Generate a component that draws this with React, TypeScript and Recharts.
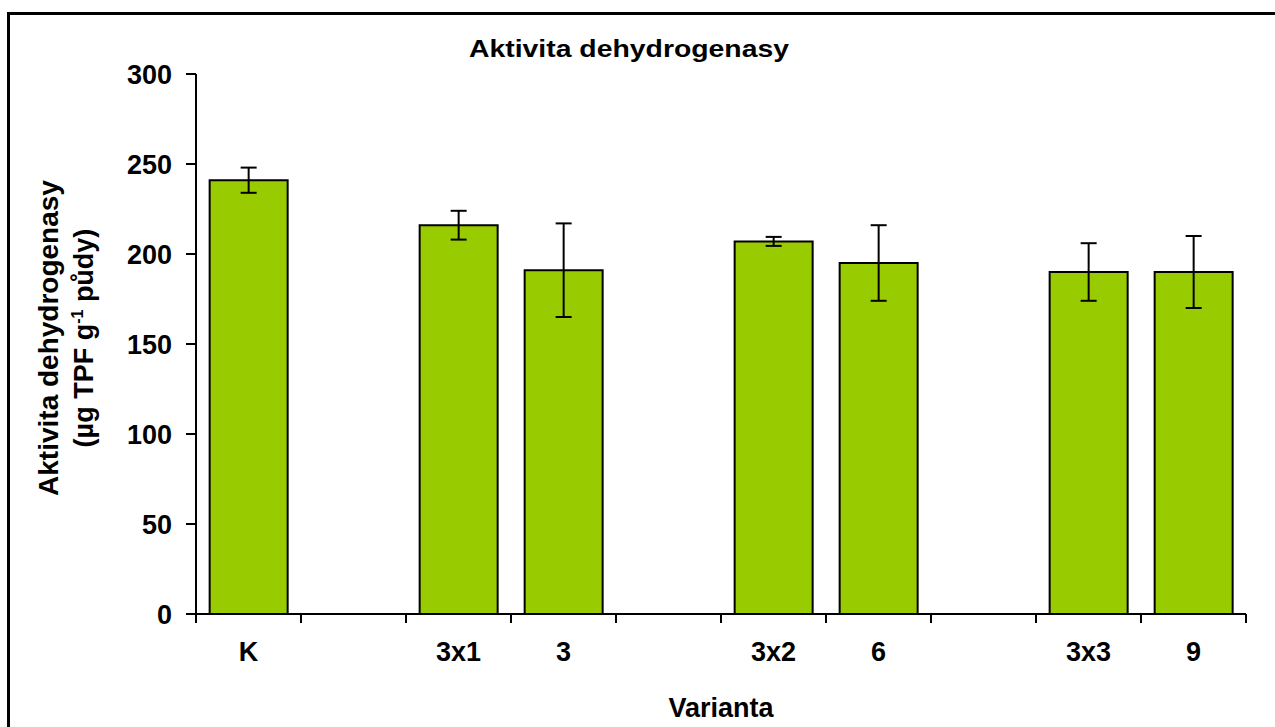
import { BarChart, Bar, XAxis, YAxis, ErrorBar } from "recharts";

// empty slots are the gaps between the groups
const categories = ["K", "", "3x1", "3", "", "3x2", "6", "", "3x3", "9"];
const means = [241, null, 216, 191, null, 207, 195, null, 190, 190];
const errors = [7, null, 8, 26, null, 2.5, 21, null, 16, 20];
const yTicks = [0, 50, 100, 150, 200, 250, 300];

const FONT = "'Liberation Sans', Arial, sans-serif";
const TICK_LEN = 9;

const data = categories.map((name, i) => ({
  slot: i,
  name,
  mean: means[i],
  err: errors[i],
}));

const XTick = (props: any) => {
  const { x, y, payload, index, visibleTicksCount, width } = props;
  const half = payload?.offset ?? width / visibleTicksCount / 2;
  const axisY = y - TICK_LEN;
  const isLast = index === visibleTicksCount - 1;
  return (
    <g>
      <line x1={x - half} x2={x - half} y1={axisY} y2={axisY + TICK_LEN} stroke="#000" strokeWidth={2} />
      {isLast && (
        <line x1={x + half} x2={x + half} y1={axisY} y2={axisY + TICK_LEN} stroke="#000" strokeWidth={2} />
      )}
      <text x={x} y={axisY + 47} textAnchor="middle" fontSize={27} fontWeight="bold" fontFamily={FONT} fill="#000">
        {categories[index]}
      </text>
    </g>
  );
};

const App = () => {
  return (
    <div
      style={{
        position: "fixed",
        left: 0,
        top: 0,
        width: 1275,
        height: 727,
        overflow: "hidden",
        background: "#fff",
      }}
    >
      <div
        style={{
          position: "absolute",
          left: 7,
          top: 12,
          width: 1400,
          height: 900,
          borderTop: "3px solid #000",
          borderLeft: "3px solid #000",
        }}
      />
      <svg width={1275} height={727} style={{ position: "absolute", left: 0, top: 0 }}>
        <text
          x={629}
          y={57}
          textAnchor="middle"
          fontSize={24}
          fontWeight="bold"
          fontFamily={FONT}
          textLength={320}
          lengthAdjust="spacingAndGlyphs"
        >
          Aktivita dehydrogenasy
        </text>
        <text
          transform="translate(58, 338) rotate(-90)"
          textAnchor="middle"
          fontSize={28}
          fontWeight="bold"
          fontFamily={FONT}
        >
          Aktivita dehydrogenasy
        </text>
        <text
          transform="translate(93, 338) rotate(-90)"
          textAnchor="middle"
          fontSize={27}
          fontWeight="bold"
          fontFamily={FONT}
        >
          (µg TPF g
          <tspan fontSize={16} dy={-10}>-1</tspan>
          <tspan dy={10}> půdy)</tspan>
        </text>
      </svg>
      <div style={{ position: "absolute", left: 0, top: 0 }}>
        <BarChart
          width={1275}
          height={727}
          data={data}
          margin={{ top: 74, right: 29, bottom: 0, left: 0 }}
          barCategoryGap="13%"
        >
          <XAxis
            dataKey="slot"
            type="category"
            interval={0}
            height={113}
            axisLine={{ stroke: "#000", strokeWidth: 2 }}
            tickLine={false}
            tickSize={TICK_LEN}
            tickMargin={0}
            tick={<XTick />}
            label={{
              value: "Varianta",
              position: "insideBottom",
              offset: 10,
              fill: "#000",
              fontSize: 27,
              fontWeight: "bold",
              fontFamily: FONT,
            }}
          />
          <YAxis
            width={196}
            domain={[0, 300]}
            ticks={yTicks}
            interval={0}
            axisLine={{ stroke: "#000", strokeWidth: 2 }}
            tickLine={{ stroke: "#000", strokeWidth: 2 }}
            tickSize={10}
            tickMargin={14}
            tick={{ fill: "#000", fontSize: 27, fontWeight: "bold", fontFamily: FONT }}
          />
          <Bar dataKey="mean" fill="#99CC00" stroke="#000" strokeWidth={2} isAnimationActive={false}>
            <ErrorBar dataKey="err" width={8} stroke="#000" strokeWidth={2} isAnimationActive={false} />
          </Bar>
        </BarChart>
      </div>
    </div>
  );
};

export default App;
